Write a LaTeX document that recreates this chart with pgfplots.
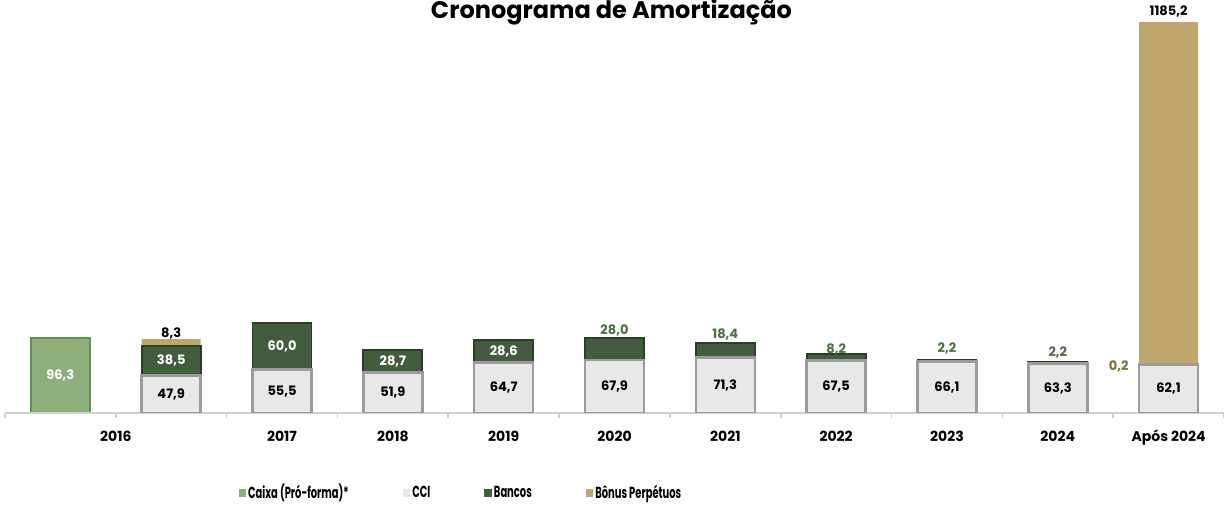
\documentclass[border=0pt]{standalone}
\usepackage{pgfplots}
\pgfplotsset{compat=1.18}
\usepackage{pgfplotstable}
\usepackage{graphicx}
\usepackage{fontspec}
\setmainfont{Poppins}
\definecolor{caixa}{HTML}{8DB07A}
\definecolor{caixaD}{HTML}{6A8C58}
\definecolor{cci}{HTML}{E8E8E8}
\definecolor{cciD}{HTML}{9C9C9C}
\definecolor{bancos}{HTML}{435C3E}
\definecolor{bancosD}{HTML}{2C3D29}
\definecolor{bonus}{HTML}{BFA66B}
\definecolor{lblgreen}{HTML}{4F6B47}
\definecolor{lbltan}{HTML}{7F6D3A}
\definecolor{axisgray}{HTML}{D0D0D0}

\pgfplotsset{
  base/.style={
    width=609.5pt, height=195.5pt, scale only axis,
    bar width=29.5pt,
    xmin=-0.5, xmax=10.5, ymin=0, ymax=502,
    clip mode=individual,
    point meta=explicit symbolic,
  },
}

\pgfplotstableread{
x y lab
0 96.3 {\textcolor{white}{96,3}}
}\caixatab

\pgfplotstableread{
x y lab c dx dy
1 47.9 {47,9} 0 0 0
2 55.5 {55,5} 0 0 0
3 51.9 {51,9} 0 0 0
4 64.7 {64,7} 0 0 0
5 67.9 {67,9} 0 0 0
6 71.3 {71,3} 0 0 0
7 67.5 {67,5} 0 0 0
8 66.1 {66,1} 0 0 0
9 63.3 {63,3} 0 0 0
10 62.1 {62,1} 0 0 0
}\ccitab

\pgfplotstableread{
x y lab c dx dy
1 38.5 {\textcolor{white}{38,5}} 0 0 0
2 60.0 {\textcolor{white}{60,0}} 0 0 0
3 28.7 {\textcolor{white}{28,7}} 0 0 0
4 28.6 {\textcolor{white}{28,6}} 0 0 0
5 28.0 {\textcolor{lblgreen}{28,0}} 1 0 4
6 18.4 {\textcolor{lblgreen}{18,4}} 1 0 4.5
7 8.2 {\textcolor{lblgreen}{8,2}} 1 0 2.5
8 2.2 {\textcolor{lblgreen}{2,2}} 1 0 5.5
9 2.2 {\textcolor{lblgreen}{2,2}} 1 0 4.5
10 0.2 {\textcolor{lbltan}{0,2}} 0 -25 -1
}\bancostab

\pgfplotstableread{
x y lab c dx dy
1 8.3 {8,3} 1 0 3
2 0 {} 0 0 0
3 0 {} 0 0 0
4 0 {} 0 0 0
5 0 {} 0 0 0
6 0 {} 0 0 0
7 0 {} 0 0 0
8 0 {} 0 0 0
9 0 {} 0 0 0
10 1185.2 {} 0 0 0
}\bonustab

\begin{document}
\begin{tikzpicture}
\useasboundingbox (-2.5pt,-47pt) rectangle (609.5pt,206.5pt);
% Caixa (single bar, not stacked)
\begin{axis}[base, ybar, hide axis, nodes near coords,
  visualization depends on={\thisrow{y} \as \myy},
  every node near coord/.append style={font=\bfseries\fontsize{6.5}{7}\selectfont, inner sep=0pt,
     anchor=center, yshift={-0.19472pt*\myy}},
]
\addplot[fill=caixa, draw=caixaD, line width=1.3pt] table[x=x, y=y, meta=lab] {\caixatab};
\end{axis}
% Stacked bars
\begin{axis}[base, ybar stacked, nodes near coords,
  axis x line*=bottom, axis y line=none,
  x axis line style={draw=axisgray, line width=1pt},
  xtick={0.5,2,3,4,5,6,7,8,9,10},
  xticklabels={2016,2017,2018,2019,2020,2021,2022,2023,2024,Após 2024},
  major tick length=0pt,
  minor xtick={-0.5,0.5,...,10.5},
  minor tick length=2.5pt,
  tick align=outside,
  minor tick style={draw=axisgray, line width=0.8pt},
  ytick=\empty,
  xticklabel style={font=\bfseries\fontsize{7}{8}\selectfont, anchor=base, yshift=-14.2pt},
  title={Cronograma de Amortização},
  every axis title/.style={font=\bfseries\fontsize{12}{14}\selectfont, at={(0.4975,1)}, anchor=base, yshift=1.8pt},
  visualization depends on={\thisrow{c}*\thisrow{y} \as \myhalf},
  visualization depends on={\thisrow{dx} \as \mydx},
  visualization depends on={\thisrow{dy} \as \mydy},
  every node near coord/.append style={font=\bfseries\fontsize{6.5}{7}\selectfont, inner sep=0pt,
     anchor=center, text=black, xshift={\mydx*1pt}, yshift={\mydy*1pt+0.19472pt*\myhalf}},
  legend style={at={(0.374,-0.2046)}, anchor=center, draw=none, fill=none,
     legend columns=4, font=\bfseries\fontsize{8}{9}\selectfont,
     /tikz/every even column/.append style={column sep=26pt},
     nodes={inner sep=1pt}},
  legend image code/.code={\fill[#1, draw=none] (0pt,-1.9pt) rectangle (3.8pt,1.9pt);},
]
\addlegendimage{fill=caixa}
\addlegendentry{\scalebox{0.62}[1]{Caixa (Pró-forma)*}}
\addplot[fill=cci, draw=cciD, line width=1.3pt] table[x=x, y=y, meta=lab] {\ccitab};
\addlegendentry{\scalebox{0.62}[1]{CCI}}
\addplot[fill=bancos, draw=bancosD, line width=0.9pt] table[x=x, y=y, meta=lab] {\bancostab};
\addlegendentry{\scalebox{0.62}[1]{Bancos}}
\addplot[fill=bonus, draw=none] table[x=x, y=y, meta=lab] {\bonustab};
\addlegendentry{\scalebox{0.62}[1]{Bônus Perpétuos}}
\node[font=\bfseries\fontsize{6.5}{7}\selectfont, anchor=base] at (axis cs:10,502) [yshift=3.5pt] {1185,2};
\end{axis}
\end{tikzpicture}
\end{document}
